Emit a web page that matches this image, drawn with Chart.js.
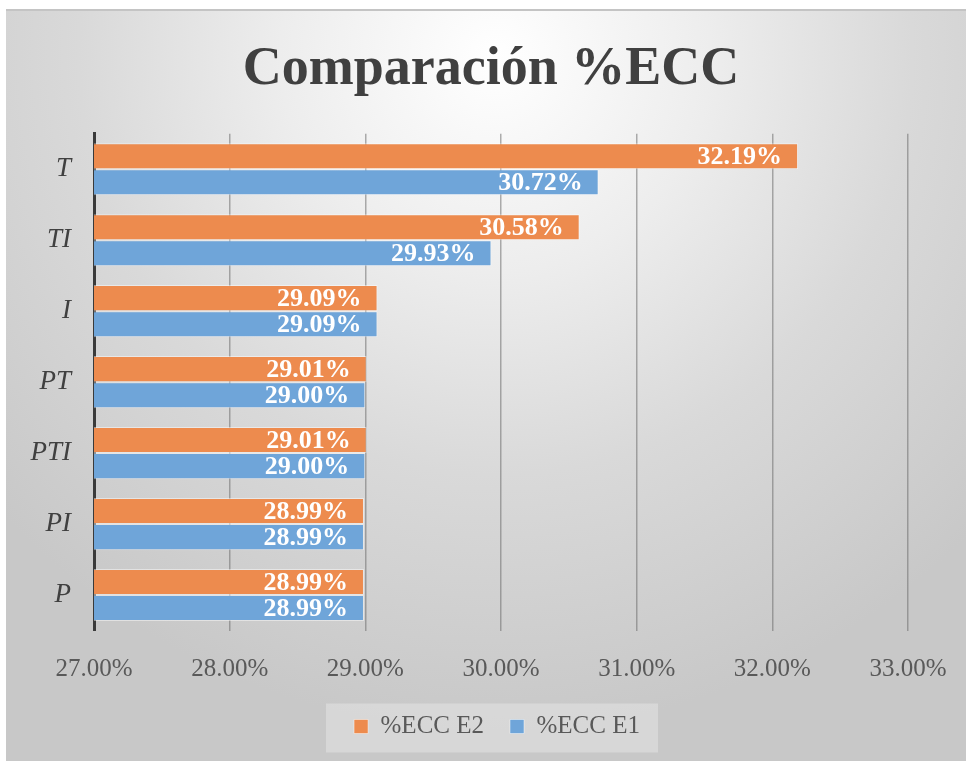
<!DOCTYPE html>
<html>
<head>
<meta charset="utf-8">
<script src="https://cdn.jsdelivr.net/npm/chart.js@4"></script>
<style>
  html, body { margin: 0; padding: 0; background: #ffffff; }
  #frame {
    position: absolute; left: 6px; top: 9px; width: 960px; height: 752px;
    background: radial-gradient(ellipse 70% 90% at 51% 6%, #ffffff 0%, #ededed 32%, #d9d9d9 62%, #c8c8c8 100%);
    border-top: 2px solid #c4c4c4; box-sizing: border-box;
  }
  #c { position: absolute; left: 0; top: 0; }
</style>
</head>
<body>
<div id="frame"></div>
<canvas id="c" width="966" height="761"></canvas>
<script>
const categories = ['T', 'TI', 'I', 'PT', 'PTI', 'PI', 'P'];
const seriesE2 = [32.19, 30.58, 29.09, 29.01, 29.01, 28.99, 28.99];
const seriesE1 = [30.72, 29.93, 29.09, 29.00, 29.00, 28.99, 28.99];
const seriesNames = ['%ECC E2', '%ECC E1'];
const xTicks = [27, 28, 29, 30, 31, 32, 33];

const SERIF = '"Liberation Serif", "Times New Roman", serif';

const valueLabels = {
  id: 'valueLabels',
  afterDatasetsDraw(chart) {
    const ctx = chart.ctx;
    ctx.save();
    ctx.font = 'bold 26px ' + SERIF;
    ctx.fillStyle = '#ffffff';
    ctx.textAlign = 'right';
    ctx.textBaseline = 'middle';
    chart.data.datasets.forEach((ds, di) => {
      chart.getDatasetMeta(di).data.forEach((bar, i) => {
        ctx.fillText(ds.data[i].toFixed(2) + '%', bar.x - 16, bar.y + 1);
      });
    });
    ctx.restore();
  }
};

const LEGEND_SHIFT = 6;
const legendBox = {
  id: 'legendBox',
  afterLayout(chart) {
    const lg = chart.legend;
    if (!lg) return;
    lg.left += LEGEND_SHIFT;
    lg.right += LEGEND_SHIFT;
  },
  beforeDraw(chart) {
    const lg = chart.legend;
    if (!lg || !lg.legendHitBoxes || !lg.legendHitBoxes.length) return;
    const hb = lg.legendHitBoxes;
    const cx = (lg.left + lg.right) / 2 - 5;
    const midY = hb[0].top + hb[0].height / 2 + 1;
    const ctx = chart.ctx;
    ctx.save();
    ctx.fillStyle = 'rgba(255,255,255,0.28)';
    ctx.fillRect(cx - 166, midY - 24, 332, 49);
    ctx.restore();
  }
};

new Chart(document.getElementById('c'), {
  type: 'bar',
  data: {
    labels: categories,
    datasets: [
      { label: seriesNames[0], data: seriesE2, backgroundColor: '#ED8B4E', borderColor: 'rgba(255,255,255,0.45)', borderWidth: 1, categoryPercentage: 0.735, barPercentage: 1.0 },
      { label: seriesNames[1], data: seriesE1, backgroundColor: '#6FA5D9', borderColor: 'rgba(255,255,255,0.45)', borderWidth: 1, categoryPercentage: 0.735, barPercentage: 1.0 }
    ]
  },
  options: {
    indexAxis: 'y',
    responsive: false,
    animation: false,
    layout: { padding: { left: 22, right: 6, top: 0, bottom: 12 } },
    plugins: {
      title: {
        display: true,
        text: 'Comparación %ECC',
        color: '#404040',
        font: { family: SERIF, size: 54, weight: 'bold', lineHeight: 1.2 },
        padding: { top: 38, bottom: 31 }
      },
      legend: {
        position: 'bottom',
        labels: {
          color: '#595959',
          font: { family: SERIF, size: 25 },
          boxWidth: 14, boxHeight: 14,
          padding: 26
        }
      },
      tooltip: { enabled: false }
    },
    scales: {
      x: {
        type: 'linear',
        min: xTicks[0], max: xTicks[xTicks.length - 1],
        afterBuildTicks(scale) { scale.ticks = xTicks.map(v => ({ value: v })); },
        ticks: {
          color: '#595959',
          font: { family: SERIF, size: 25 },
          padding: 24,
          callback: v => Number(v).toFixed(2) + '%'
        },
        grid: { color: 'rgba(110,110,110,0.55)', lineWidth: 1.5, drawTicks: false },
        border: { display: false },
        afterFit(scale) { scale.height = 57.5; scale.paddingRight = 20; scale.paddingLeft = 20; }
      },
      y: {
        type: 'category',
        ticks: {
          color: '#404040',
          font: { family: SERIF, size: 27, style: 'italic' },
          padding: 23
        },
        grid: { display: false, drawTicks: false },
        border: { display: true, color: '#3a3a3a', width: 3 },
        afterFit(scale) { scale.width = 72; }
      },
      yRight: {
        type: 'linear',
        position: 'right',
        display: true,
        ticks: { display: false },
        grid: { display: false, drawTicks: false },
        border: { display: false },
        afterFit(scale) { scale.width = 52; }
      }
    }
  },
  plugins: [legendBox, valueLabels]
});
</script>
</body>
</html>
